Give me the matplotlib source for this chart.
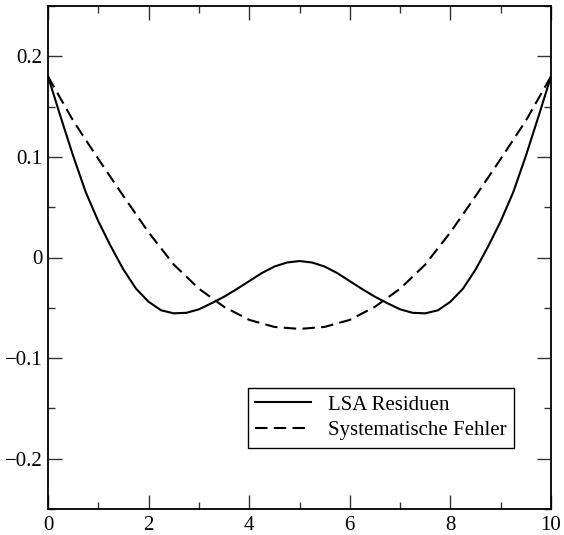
import numpy as np
import matplotlib
matplotlib.use("Agg")
import matplotlib.pyplot as plt
from matplotlib.ticker import MultipleLocator

plt.rcParams['font.family'] = ['Liberation Serif', 'DejaVu Serif']

# values (symmetric around x = 5)
x_res = [0.0, 0.25, 0.5, 0.75, 1.0, 1.25, 1.5, 1.75, 2.0, 2.25, 2.5,
         2.75, 3.0, 3.25, 3.5, 3.75, 4.0, 4.25, 4.5, 4.75, 5.0,
         5.25, 5.5, 5.75, 6.0, 6.25, 6.5, 6.75, 7.0, 7.25, 7.5,
         7.75, 8.0, 8.25, 8.5, 8.75, 9.0, 9.25, 9.5, 9.75, 10.0]
lsa_res = [0.180, 0.140, 0.101, 0.065, 0.036, 0.011, -0.012, -0.031, -0.044, -0.0525, -0.0555,
           -0.055, -0.0515, -0.0455, -0.039, -0.0315, -0.0235, -0.0155, -0.009, -0.005, -0.0035,
           -0.005, -0.009, -0.0155, -0.0235, -0.0315, -0.039, -0.0455, -0.0515, -0.055, -0.0555,
           -0.0525, -0.044, -0.031, -0.012, 0.011, 0.036, 0.065, 0.101, 0.140, 0.180]

x_sys = [0.0, 0.5, 1.0, 1.5, 2.0, 2.5, 3.0, 3.5, 4.0, 4.5, 5.0,
         5.5, 6.0, 6.5, 7.0, 7.5, 8.0, 8.5, 9.0, 9.5, 10.0]
sys_err = [0.180, 0.136, 0.098, 0.061, 0.025, -0.007, -0.031, -0.049, -0.062, -0.069, -0.071,
           -0.069, -0.062, -0.049, -0.031, -0.007, 0.025, 0.061, 0.098, 0.136, 0.180]

fig = plt.figure(figsize=(5.64, 5.35), dpi=100)
ax = fig.add_axes([48 / 564, 26 / 535, 503 / 564, 503 / 535])

ax.plot(x_res, lsa_res, color='black', lw=1.5, label='LSA Residuen')
ax.plot(x_sys, sys_err, color='black', lw=1.5, dashes=(6, 3),
        label='Systematische Fehler')

ax.set_xlim(0, 10)
ax.set_ylim(-0.25, 0.25)
ax.xaxis.set_minor_locator(MultipleLocator(1))
ax.yaxis.set_minor_locator(MultipleLocator(0.05))
ax.set_xticks([0, 2, 4, 6, 8, 10])
ax.set_xticklabels(['0', '2', '4', '6', '8', '10'])
ax.set_yticks([-0.2, -0.1, 0, 0.1, 0.2])
ax.set_yticklabels(['\u22120.2', '\u22120.1', '0', '0.1', '0.2'])

ax.tick_params(which='both', direction='in', top=True, right=True,
               labelsize=15, width=1.0, color='#333333')
ax.tick_params(which='major', length=10)
ax.tick_params(which='minor', length=5)
ax.tick_params(axis='y', which='major', pad=4)
ax.tick_params(axis='x', which='major', pad=5)
for sp in ax.spines.values():
    sp.set_linewidth(1.3)

leg = ax.legend(loc='upper left', bbox_to_anchor=(0.398, 0.241), fontsize=15,
                frameon=True, fancybox=False, edgecolor='black', framealpha=1,
                handlelength=2.65, handletextpad=0.85, labelspacing=0.3,
                borderpad=0.35, borderaxespad=0)
leg.get_frame().set_linewidth(1.0)

fig.savefig('out.png', dpi=100)
